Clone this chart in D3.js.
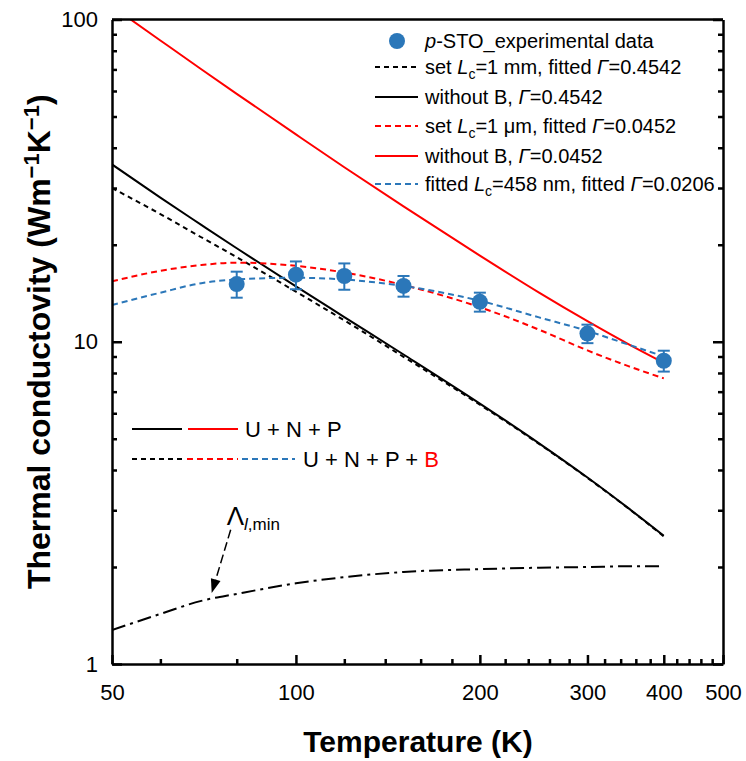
<!DOCTYPE html>
<html><head><meta charset="utf-8">
<script src="https://cdn.jsdelivr.net/npm/d3@7"></script>
<style>body{margin:0;background:#fff} text{font-family:"Liberation Sans",Arial,sans-serif;fill:#000}</style>
</head><body><svg id="c" width="746" height="761"></svg>
<script>
// ---- data ----
const temps      = [50, 60, 70, 80, 100, 120, 150, 200, 250, 300, 350, 400];
const blackSolid = [35.5, 28.0, 23.05, 19.5, 14.85, 11.93, 9.13, 6.43, 4.84, 3.79, 3.045, 2.5];
const blackDash  = [30, 24.9, 21.1, 18.3, 14.3, 11.65, 8.98, 6.38, 4.82, 3.78, 3.04, 2.49];
const redSolid   = [109.9, 86.1, 70.1, 58.8, 44.0, 34.8, 26.3, 18.5, 14.2, 11.58, 9.83, 8.6];
const redDash    = [15.4, 16.6, 17.3, 17.6, 17.2, 16.4, 15.0, 12.8, 10.9, 9.4, 8.4, 7.7];
const blueDash   = [13.0, 14.2, 15.2, 15.6, 15.8, 15.6, 14.9, 13.4, 11.9, 10.8, 9.8, 9.0];
const lambdaMin  = [1.275, 1.43, 1.57, 1.65, 1.78, 1.86, 1.93, 1.97, 1.99, 2.0, 2.01, 2.01];
const expT   = [80, 100, 120, 150, 200, 300, 400];
const expK   = [15.1, 16.15, 16.0, 14.9, 13.3, 10.6, 8.73];
const expErr = [1.4, 1.6, 1.5, 1.1, 0.9, 0.7, 0.65];
const xMajor = [50, 100, 200, 300, 400, 500];
const xMinor = [60, 80, 120, 140, 160, 180, 220, 240, 260, 280, 320, 340, 360, 380, 420, 440, 460, 480];
const yMajor = [1, 10, 100];
const yMinor = [2,3,4,5,6,7,8,9,20,30,40,50,60,70,80,90];
const arrowFrom = [78.2, 2.61], arrowTo = [72.8, 1.66];

// ---- layout ----
const L = 112, R = 723, T = 19.5, B = 664;
const svg = d3.select("#c");
const x = d3.scaleLog().domain([50, 500]).range([L, R]);
const y = d3.scaleLog().domain([1, 100]).range([B, T]);
const RED = "#ff0000", BLUE = "#2b77b9";

svg.append("defs").append("clipPath").attr("id","clip")
  .append("rect").attr("x",L).attr("y",T).attr("width",R-L).attr("height",B-T);

const line = d3.line().x(d => x(d[0])).y(d => y(d[1])).curve(d3.curveMonotoneX);
const series = [
  {v: lambdaMin, c: "#000", dash: "14,5,3,5"},
  {v: blackDash, c: "#000", dash: "5,4"},
  {v: blackSolid, c: "#000", dash: null},
  {v: redSolid, c: RED, dash: null},
  {v: redDash, c: RED, dash: "6,4"},
  {v: blueDash, c: BLUE, dash: "6,4"},
];
const g = svg.append("g").attr("clip-path","url(#clip)");
series.forEach(s => {
  g.append("path").datum(temps.map((t,i)=>[t, s.v[i]]))
    .attr("d", line).attr("fill","none").attr("stroke", s.c)
    .attr("stroke-width", 2).attr("stroke-dasharray", s.dash);
});

// experimental points
const pts = svg.append("g");
expT.forEach((t,i) => {
  const cx = x(t), y0 = y(expK[i]-expErr[i]), y1 = y(expK[i]+expErr[i]);
  pts.append("line").attr("x1",cx).attr("x2",cx).attr("y1",y0).attr("y2",y1).attr("stroke",BLUE).attr("stroke-width",2);
  [y0,y1].forEach(yy => pts.append("line").attr("x1",cx-6).attr("x2",cx+6).attr("y1",yy).attr("y2",yy).attr("stroke",BLUE).attr("stroke-width",2));
  pts.append("circle").attr("cx",cx).attr("cy",y(expK[i])).attr("r",8).attr("fill",BLUE);
});

// axes
function styleAxis(sel){ sel.selectAll("path").attr("stroke","#000").attr("stroke-width",2.5);
  sel.selectAll("line").attr("stroke","#000").attr("stroke-width",2.5);
  sel.selectAll("text").style("font-size","22px").attr("fill","#000"); }
const fmt = d => d3.format("d")(d);
svg.append("g").attr("transform",`translate(0,${B})`)
  .call(d3.axisBottom(x).tickValues(xMajor).tickFormat(fmt).tickSize(-9).tickSizeOuter(0).tickPadding(20))
  .call(styleAxis);
svg.append("g").attr("transform",`translate(0,${B})`)
  .call(d3.axisBottom(x).tickValues(xMinor).tickFormat("").tickSize(-5).tickSizeOuter(0)).call(styleAxis)
  .select("path").remove();
svg.append("g").attr("transform",`translate(${L},0)`)
  .call(d3.axisLeft(y).tickValues(yMajor).tickFormat(fmt).tickSize(-10).tickSizeOuter(0).tickPadding(14))
  .call(styleAxis);
svg.append("g").attr("transform",`translate(${L},0)`)
  .call(d3.axisLeft(y).tickValues(yMinor).tickFormat("").tickSize(-5).tickSizeOuter(0)).call(styleAxis)
  .select("path").remove();
svg.append("g").attr("transform",`translate(${R},0)`)
  .call(d3.axisRight(y).tickValues(yMajor).tickFormat("").tickSize(-10).tickSizeOuter(0)).call(styleAxis);
svg.append("g").attr("transform",`translate(${R},0)`)
  .call(d3.axisRight(y).tickValues(yMinor).tickFormat("").tickSize(-5).tickSizeOuter(0)).call(styleAxis)
  .select("path").remove();
svg.append("line").attr("x1",L).attr("x2",R).attr("y1",T).attr("y2",T).attr("stroke","#000").attr("stroke-width",2.5);

// axis titles
svg.append("text").attr("x",418).attr("y",752).attr("text-anchor","middle")
  .style("font-size","30px").style("font-weight","bold").text("Temperature (K)");
const yt = svg.append("text").attr("transform",`translate(50,${(T+B)/2}) rotate(-90)`).attr("text-anchor","middle")
  .style("font-size","32px").style("font-weight","bold");
yt.append("tspan").text("Thermal conductovity (Wm");
yt.append("tspan").attr("dy",-11).style("font-size","22px").text("\u22121");
yt.append("tspan").attr("dy",11).text("K");
yt.append("tspan").attr("dy",-11).style("font-size","22px").text("\u22121");
yt.append("tspan").attr("dy",11).text(")");

// top legend
const lg = svg.append("g");
const lx0 = 375, lx1 = 418, tx = 425;
const rowsY = [41, 67, 97, 126, 156, 184];
lg.append("circle").attr("cx",397).attr("cy",rowsY[0]).attr("r",8).attr("fill",BLUE);
const items = [
  {c:"#000", dash:"5,4"}, {c:"#000", dash:null}, {c:RED, dash:"6,4"}, {c:RED, dash:null}, {c:BLUE, dash:"6,4"}
];
items.forEach((it,i) => lg.append("line").attr("x1",lx0).attr("x2",lx1).attr("y1",rowsY[i+1]).attr("y2",rowsY[i+1])
  .attr("stroke",it.c).attr("stroke-width",2).attr("stroke-dasharray",it.dash));
function ltext(yy){ return lg.append("text").attr("x",tx).attr("y",yy+7).style("font-size","20px"); }
let t0 = ltext(rowsY[0]); t0.append("tspan").style("font-style","italic").text("p"); t0.append("tspan").text("-STO_experimental data");
function lcLine(yy, pre, val, gam){
  const t = ltext(yy);
  t.append("tspan").text(pre);
  t.append("tspan").style("font-style","italic").text("L");
  t.append("tspan").attr("dy",5).style("font-size","14px").text("c");
  t.append("tspan").attr("dy",-5).text(val + ", fitted ");
  t.append("tspan").style("font-style","italic").text("\u0393");
  t.append("tspan").text("=" + gam);
}
lcLine(rowsY[1], "set ", "=1 mm", "0.4542");
let t2 = ltext(rowsY[2]); t2.append("tspan").text("without B, "); t2.append("tspan").style("font-style","italic").text("\u0393"); t2.append("tspan").text("=0.4542");
lcLine(rowsY[3], "set ", "=1 \u03bcm", "0.0452");
let t4 = ltext(rowsY[4]); t4.append("tspan").text("without B, "); t4.append("tspan").style("font-style","italic").text("\u0393"); t4.append("tspan").text("=0.0452");
lcLine(rowsY[5], "fitted ", "=458 nm", "0.0206");

// lower-left legend
const l2 = svg.append("g");
const segs1 = [[132,182,"#000",null],[188,238,RED,null]];
segs1.forEach(s => l2.append("line").attr("x1",s[0]).attr("x2",s[1]).attr("y1",429).attr("y2",429).attr("stroke",s[2]).attr("stroke-width",2));
l2.append("text").attr("x",245).attr("y",437).style("font-size","22px").text("U + N + P");
const segs2 = [[132,183,"#000","5,4"],[187,238,RED,"6,4"],[242,295,BLUE,"6,4"]];
segs2.forEach(s => l2.append("line").attr("x1",s[0]).attr("x2",s[1]).attr("y1",459).attr("y2",459).attr("stroke",s[2]).attr("stroke-width",2).attr("stroke-dasharray",s[3]));
const u2 = l2.append("text").attr("x",303).attr("y",467).style("font-size","22px");
u2.append("tspan").text("U + N + P + ");
u2.append("tspan").attr("fill",RED).style("fill",RED).text("B");

// annotation arrow
const ax0 = x(arrowFrom[0]), ay0 = y(arrowFrom[1]), ax1 = x(arrowTo[0]), ay1 = y(arrowTo[1]);
const ang = Math.atan2(ay1-ay0, ax1-ax0);
const hl = 14, hw = 5;
const bx = ax1 - hl*Math.cos(ang), by = ay1 - hl*Math.sin(ang);
svg.append("line").attr("x1",ax0).attr("y1",ay0).attr("x2",bx).attr("y2",by)
  .attr("stroke","#000").attr("stroke-width",1.5).attr("stroke-dasharray","9,4");
svg.append("path").attr("d",`M${ax1},${ay1}L${bx - hw*Math.sin(ang)},${by + hw*Math.cos(ang)}L${bx + hw*Math.sin(ang)},${by - hw*Math.cos(ang)}Z`).attr("fill","#000");
const lam = svg.append("text").attr("x",ax0-4).attr("y",ay0-5).style("font-size","26px");
lam.append("tspan").text("\u039b");
lam.append("tspan").attr("dy",5).style("font-size","17px").style("font-style","italic").text("l");
lam.append("tspan").style("font-size","17px").text(",min");
</script></body></html>
